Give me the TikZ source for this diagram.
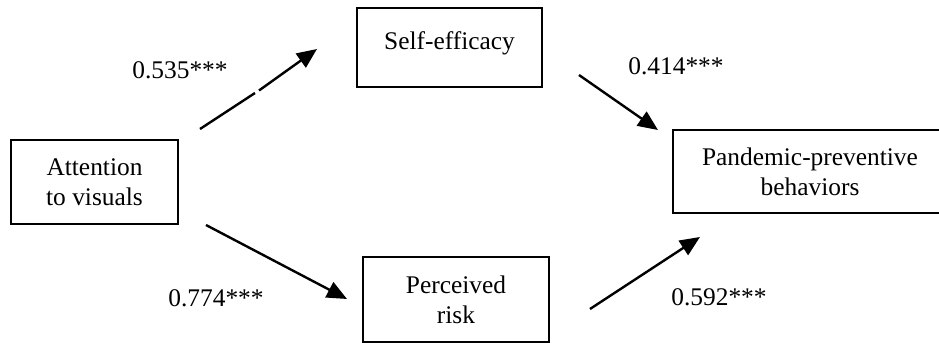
\documentclass[tikz,border=0pt]{standalone}
\usepackage{fontspec}
\setmainfont{Liberation Serif}
\usetikzlibrary{arrows.meta}
\tikzstyle{var} = [rectangle, draw=black, line width=1pt, align=center, inner sep=0pt, font=\fontsize{12.7}{15}\selectfont]
\tikzstyle{coef} = [font=\fontsize{12.7}{15}\selectfont]
\tikzstyle{arrow} = [line width=1.2pt, -{Triangle[length=10pt,width=8.5pt]}]

\begin{document}
\begin{tikzpicture}[x=0.5pt, y=-0.5pt]
		\useasboundingbox (0,0) rectangle (939,343);
		% variables
		\node (att) [var, minimum width=83.5pt, minimum height=42pt] at (94.5,182) {Attention\\to visuals};
		\node (eff) [var, minimum width=92.5pt, minimum height=39.5pt, text depth=7pt] at (449.5,47.5) {Self-efficacy};
		\node (risk) [var, minimum width=93pt, minimum height=42.5pt] at (456,299.5) {Perceived\\risk};
		\node (ppb) [var, minimum width=137pt, minimum height=41.5pt] at (810,171.5) {Pandemic-preventive\\behaviors};
		% path ends
		\coordinate (a1) at (200,129);
		\coordinate (g1) at (255,93);
		\coordinate (g2) at (259,90.5);
		\coordinate (t1) at (317,49);
		\coordinate (a2) at (579,75);
		\coordinate (t2) at (658,130);
		\coordinate (a3) at (206,225);
		\coordinate (t3) at (347,299);
		\coordinate (a4) at (590,309);
		\coordinate (t4) at (700,237);
		\draw [line width=1.2pt] (a1) -- (g1);
		\draw [arrow] (g2) -- (t1);
		\draw [arrow] (a2) -- (t2);
		\draw [arrow] (a3) -- (t3);
		\draw [arrow] (a4) -- (t4);
		% coefficients
		\node (c1) [coef] at (180,70) {0.535***};
		\node (c2) [coef] at (676,66) {0.414***};
		\node (c3) [coef] at (216,298) {0.774***};
		\node (c4) [coef] at (719,297) {0.592***};
\end{tikzpicture}
\end{document}
